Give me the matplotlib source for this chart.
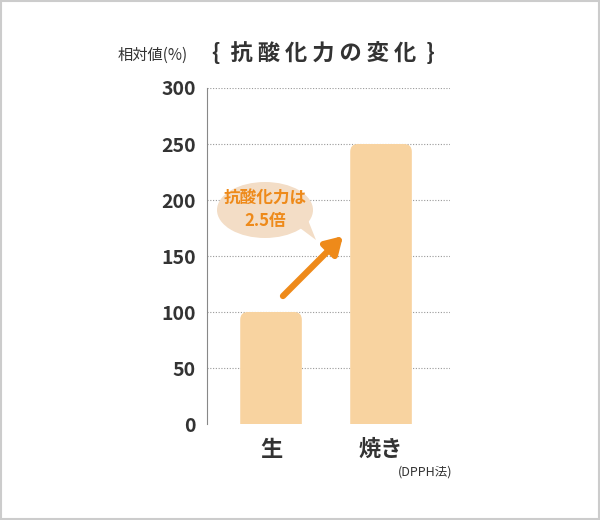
import matplotlib
matplotlib.use("Agg")
import matplotlib.pyplot as plt
from matplotlib.patches import FancyBboxPatch, Ellipse, Polygon

plt.rcParams['font.family'] = ['Noto Sans CJK JP', 'DejaVu Sans']

categories = ["生", "焼き"]
values = [100, 250]
yticks = [0, 50, 100, 150, 200, 250, 300]

fig = plt.figure(figsize=(6, 5.2), dpi=100)
fig.patches.append(plt.Rectangle((0.002, 0.002), 0.996, 0.996, transform=fig.transFigure,
                                 fill=False, ec="#cccccc", lw=1.5))
ax = fig.add_axes([207/600, 1-424/520, 243/600, 336/520])
ax.set_xlim(-0.582, 1.627)
ax.set_ylim(0, 300)
bar_color = "#F8D3A0"
w = 0.56
aspect = (300/336)/(1/110)
for i, v in enumerate(values):
    p = FancyBboxPatch((i - w/2, -30), w, v + 30,
                       boxstyle="round,pad=0,rounding_size=0.07",
                       mutation_aspect=aspect, fc=bar_color, ec="none", zorder=2)
    ax.add_patch(p)
for y in yticks[1:]:
    ax.axhline(y, color="#999999", lw=0.8, ls=(0, (1, 1.5)), zorder=1)
for s in ["top", "right", "bottom"]:
    ax.spines[s].set_visible(False)
ax.spines["left"].set_color("#888888")
ax.set_yticks(yticks)
ax.set_yticklabels([str(t) for t in yticks], fontsize=14, color="#333333", fontweight="bold")
ax.tick_params(axis="y", length=0, pad=8)
ax.set_xticks(range(len(categories)))
ax.set_xticklabels(categories, fontsize=16, fontweight="bold", color="#333333")
ax.tick_params(axis="x", length=0, pad=10)

# bubble
ell = Ellipse((265, 520-210), 96, 56, transform=None, fc="#F3DDC6", ec="none", zorder=3)
fig.patches.append(ell)
tail = Polygon([(292, 520-222), (316, 520-240), (300, 520-200)], closed=True,
               transform=None, fc="#F3DDC6", ec="none")
fig.patches.append(tail)
fig.text(265/600, 1-210/520, "抗酸化力は\n2.5倍", ha="center", va="center",
         fontsize=12, fontweight="bold", color="#EE8A1A", linespacing=1.3)
ax.annotate("", xy=(345/600, 1-234/520), xytext=(281/600, 1-298/520),
            xycoords="figure fraction", textcoords="figure fraction",
            arrowprops=dict(arrowstyle="-|>,head_length=1.0,head_width=0.6",
                            color="#EE8A1A", lw=4.5), zorder=5)

fig.text(118/600, 1-55/520, "相対値(%)", fontsize=11, color="#333333", va="center")
fig.text(212/600, 1-53/520, "{  抗 酸 化 力 の 変 化  }", fontsize=16, fontweight="bold",
         color="#333333", va="center")
fig.text(425/600, 1-472/520, "(DPPH法)", fontsize=9, color="#333333", va="center", ha="center")

fig.savefig("out.png", dpi=100)
